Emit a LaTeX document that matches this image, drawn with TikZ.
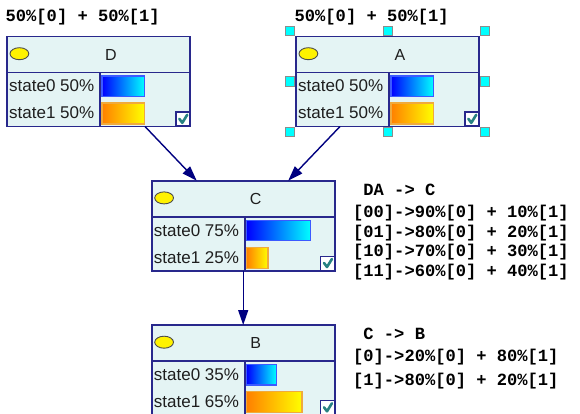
\documentclass[tikz,border=0pt]{standalone}
\usepackage{fontspec}
\setmainfont{Liberation Sans}
\newfontfamily\monofam{Liberation Mono}
\usetikzlibrary{arrows.meta}

\definecolor{frame}{RGB}{40,40,140}
\definecolor{panel}{RGB}{228,244,244}
\definecolor{wire}{RGB}{0,0,128}
\definecolor{tick}{RGB}{40,130,130}
\definecolor{blueedge}{RGB}{60,90,255}
\definecolor{orangeedge}{RGB}{240,170,60}
\definecolor{inktext}{RGB}{30,30,30}
\definecolor{gripfill}{RGB}{0,255,255}

\newcommand\codefont{\monofam\bfseries\fontsize{17.1}{20}\selectfont}

\tikzset{
  netbox/.style={draw=frame, line width=1.8pt, fill=panel, minimum width=183pt,
    minimum height=90pt, inner sep=0pt, outer sep=0pt},
  frameline/.style={draw=frame, line width=1.8pt},
  knob/.style={draw=black!70, fill=yellow, line width=0.9pt},
  titletext/.style={inner sep=0pt, font=\fontsize{16}{18}\selectfont, text=inktext},
  statetext/.style={inner sep=0pt, font=\fontsize{17}{19}\selectfont, text=inktext},
  bluebar/.style={left color=blue, right color=cyan},
  orangebar/.style={left color={rgb,255:red,255;green,128;blue,0}, right color=yellow},
  checkbox/.style={draw=frame, fill=white, line width=1.4pt},
  checkmark/.style={draw=tick, line width=2.6pt, line cap=round, line join=round},
  grip/.style={draw=black!45, fill=gripfill, line width=0.6pt},
  link/.style={draw=wire, line width=1.4pt, -{Triangle[length=15pt,width=10pt]}},
  codeline/.style={inner sep=0pt, anchor=base west, font=\codefont}
}

% one belief node: name, left x, top y, title, state0 percent, state1 percent
\newcommand\beliefnode[6]{%
  \node[netbox, anchor=north west] (#1) at (#2,#3) {};
  \begin{scope}[shift={(#1.north west)}]
    \draw[frameline] (0,36) -- (183,36);
    \draw[frameline] (93,36) -- (93,90);
    \draw[knob] (12.4,17.2) ellipse [x radius=9.4pt, y radius=6pt];
    \node[titletext] (#1-title) at (104,18) {#4};
    \node[statetext, anchor=west] (#1-s0) at (2,49.5) {state0 #5\%};
    \node[statetext, anchor=west] (#1-s1) at (2,76.5) {state1 #6\%};
    \pgfmathsetmacro\barA{0.85*#5}
    \pgfmathsetmacro\barB{0.85*#6}
    \shade[bluebar] (95,39.5) rectangle (95+\barA,60);
    \draw[blueedge, line width=1.1pt] (95,39.5) rectangle (95+\barA,60);
    \shade[orangebar] (95,66.5) rectangle (95+\barB,87.5);
    \draw[orangeedge, line width=1.1pt] (95,66.5) rectangle (95+\barB,87.5);
    \draw[checkbox] (169,75.5) rectangle (183,89.5);
    \draw[checkmark] (172.3,82.3) -- (175.3,86.3) -- (180.2,78.3);
  \end{scope}
}

\begin{document}
\begin{tikzpicture}[x=1pt, y=-1pt]
  \useasboundingbox (0,0) rectangle (580,414);
  \clip (0,0) rectangle (580,414);
  \fill[white] (0,0) rectangle (580,414);

  % prior labels above the root nodes
  \node[codeline] (priorD) at (5.5,21.7) {50\%[0] + 50\%[1]};
  \node[codeline] (priorA) at (294.5,21.7) {50\%[0] + 50\%[1]};

  \beliefnode{D}{7}{36.5}{D}{50}{50}
  \beliefnode{A}{296}{36.5}{A}{50}{50}
  \beliefnode{C}{151.7}{180.7}{C}{75}{25}
  \beliefnode{B}{151.7}{325}{B}{35}{65}

  % selection handles around node A
  \begin{scope}[shift={(A.north west)}]
    \foreach \hx/\hy in {-6/-5.5, 91.5/-5.5, 189/-5.5, -6/45, 189/45, -6/95.5, 91.5/95.5, 189/95.5}
      \draw[grip] (\hx-4.7,\hy-4.7) rectangle (\hx+4.7,\hy+4.7);
  \end{scope}

  % dependencies
  \draw[link] ([xshift=138pt]D.south west) -- ([xshift=45pt]C.north west);
  \draw[link] ([xshift=44pt]A.south west) -- ([xshift=136.5pt]C.north west);
  \draw[link] (C.south) -- (B.north);

  % conditional tables
  \node[codeline] (tC0) at (353,195) {\ DA -> C};
  \node[codeline] (tC1) at (353,217.7) {[00]->90\%[0] + 10\%[1]};
  \node[codeline] (tC2) at (353,237) {[01]->80\%[0] + 20\%[1]};
  \node[codeline] (tC3) at (353,256.7) {[10]->70\%[0] + 30\%[1]};
  \node[codeline] (tC4) at (353,276.3) {[11]->60\%[0] + 40\%[1]};

  \node[codeline] (tB0) at (353,339) {\ C -> B};
  \node[codeline] (tB1) at (353,361.7) {[0]->20\%[0] + 80\%[1]};
  \node[codeline] (tB2) at (353,385.7) {[1]->80\%[0] + 20\%[1]};
\end{tikzpicture}
\end{document}
